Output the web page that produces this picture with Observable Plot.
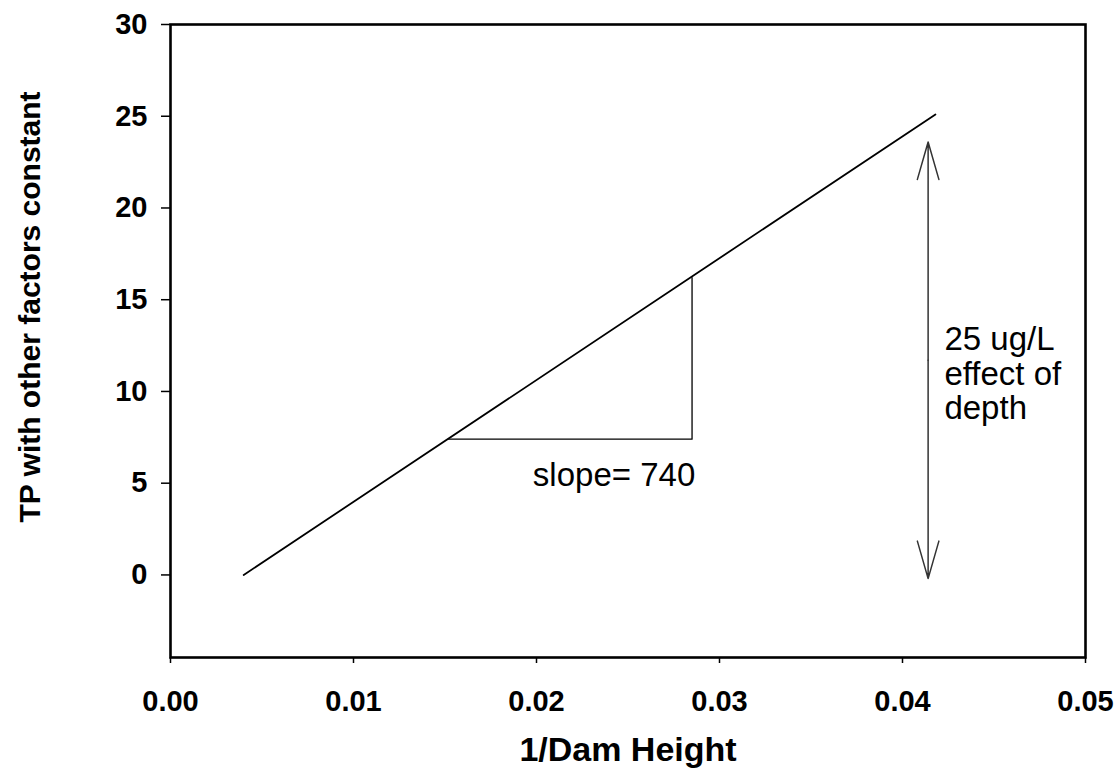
<!DOCTYPE html>
<html>
<head>
<meta charset="utf-8">
<script src="https://cdn.jsdelivr.net/npm/d3@7"></script>
<script src="https://cdn.jsdelivr.net/npm/@observablehq/plot@0.6"></script>
<style>
  html, body { margin: 0; padding: 0; background: #fff; }
  #chart svg { display: block; }
</style>
</head>
<body>
<div id="chart"></div>
<script>
// Fitted line (1/Dam Height vs TP)
const lineX = [0.004, 0.0418];
const lineY = [0, 25.1];

// Slope triangle vertices
const triX = [0.0152, 0.0285, 0.0285];
const triY = [7.4, 7.4, 16.2];

// Double-headed arrow ("25 ug/L effect of depth")
const arrowX = 0.0414;
const arrowTop = 23.6;
const arrowBottom = -0.2;
const arrowMid = 11.7;

// Tick values
const xTicks = [0, 0.01, 0.02, 0.03, 0.04, 0.05];
const yTicks = [0, 5, 10, 15, 20, 25, 30];

// Annotation texts
const slopeLabel = "slope= 740";
const depthLabel = "25 ug/L\neffect of\ndepth";
const slopePos = [0.0198, 4.85];
const depthPos = [0.04229, 13.6];

const lineData = lineX.map((x, i) => ({x, y: lineY[i]}));
const triData = triX.map((x, i) => ({x, y: triY[i]}));
const arrowData = [
  {x1: arrowX, y1: arrowMid, x2: arrowX, y2: arrowTop},
  {x1: arrowX, y1: arrowMid, x2: arrowX, y2: arrowBottom}
];

const font = "'Liberation Sans', Arial, Helvetica, sans-serif";

const chart = Plot.plot({
  width: 1120,
  height: 773,
  marginLeft: 170,
  marginRight: 35,
  marginTop: 24,
  marginBottom: 116,
  style: {fontFamily: font, fontSize: "29px", color: "#000", background: "#fff"},
  x: {domain: [0, 0.05]},
  y: {domain: [-4.5, 30]},
  marks: [
    Plot.frame({stroke: "#000", strokeWidth: 2.6}),
    Plot.axisX({
      ticks: xTicks, tickFormat: d3.format(".2f"), tickSize: 6, tickPadding: 27,
      fontSize: 29, fontWeight: "bold", label: null, strokeWidth: 1.5
    }),
    Plot.axisY({
      ticks: yTicks, tickSize: 9, tickPadding: 14,
      fontSize: 29, fontWeight: "bold", label: null, strokeWidth: 1.5
    }),
    Plot.line(lineData, {x: "x", y: "y", stroke: "#000", strokeWidth: 1.8}),
    Plot.line(triData, {x: "x", y: "y", stroke: "#000", strokeWidth: 1.3}),
    Plot.arrow(arrowData, {
      x1: "x1", y1: "y1", x2: "x2", y2: "y2",
      stroke: "#333", strokeWidth: 1.5, headLength: 39, headAngle: 32
    }),
    Plot.text([slopeLabel], {
      x: () => slopePos[0], y: () => slopePos[1], text: d => d,
      textAnchor: "start", lineAnchor: "bottom", fontSize: 33, fill: "#000"
    }),
    Plot.text([depthLabel], {
      x: () => depthPos[0], y: () => depthPos[1], text: d => d,
      textAnchor: "start", lineAnchor: "top", fontSize: 33, lineHeight: 1.05, fill: "#000"
    }),
    Plot.text(["1/Dam Height"], {
      frameAnchor: "bottom", dy: 103, text: d => d,
      lineAnchor: "bottom", fontSize: 34, fontWeight: "bold", fill: "#000"
    }),
    Plot.text(["TP with other factors constant"], {
      frameAnchor: "left", dx: -140, dy: -34, rotate: -90, text: d => d,
      textAnchor: "middle", lineAnchor: "middle",
      fontSize: 30, fontWeight: "bold", fill: "#000"
    })
  ]
});

document.getElementById("chart").appendChild(chart);
</script>
</body>
</html>
